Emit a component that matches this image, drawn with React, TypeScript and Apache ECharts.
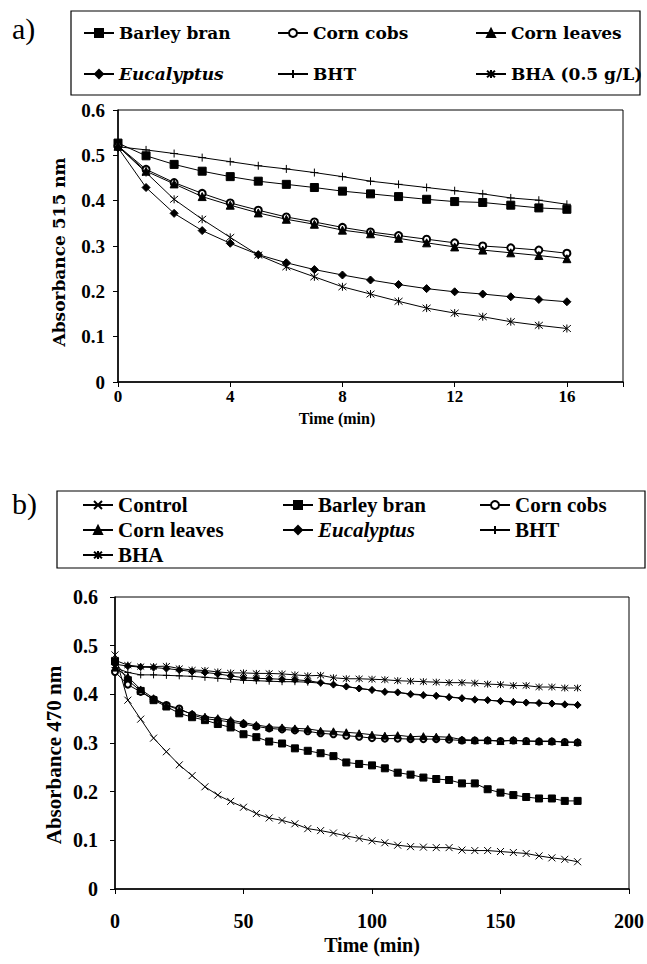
import React, { useEffect, useRef } from 'react';
import * as echarts from 'echarts';

// ---------- Data: panel a (DPPH, 515 nm) ----------
const timeA = [0, 1, 2, 3, 4, 5, 6, 7, 8, 9, 10, 11, 12, 13, 14, 15, 16];
const barleyA = [0.527, 0.499, 0.48, 0.465, 0.453, 0.443, 0.436, 0.429, 0.421, 0.415, 0.409, 0.403, 0.398, 0.396, 0.39, 0.384, 0.381];
const cobsA = [0.521, 0.469, 0.44, 0.416, 0.395, 0.379, 0.364, 0.353, 0.341, 0.331, 0.323, 0.315, 0.307, 0.3, 0.296, 0.291, 0.284];
const leavesA = [0.52, 0.465, 0.437, 0.409, 0.39, 0.373, 0.359, 0.348, 0.335, 0.327, 0.317, 0.307, 0.298, 0.291, 0.285, 0.279, 0.272];
const eucalyptusA = [0.517, 0.429, 0.372, 0.334, 0.306, 0.281, 0.263, 0.248, 0.236, 0.225, 0.215, 0.206, 0.199, 0.194, 0.188, 0.182, 0.177];
const bhtA = [0.519, 0.512, 0.504, 0.495, 0.486, 0.477, 0.47, 0.462, 0.453, 0.443, 0.436, 0.429, 0.422, 0.415, 0.406, 0.401, 0.392];
const bhaA = [0.52, 0.462, 0.403, 0.359, 0.319, 0.28, 0.254, 0.232, 0.21, 0.194, 0.178, 0.163, 0.152, 0.144, 0.133, 0.125, 0.118];

// ---------- Data: panel b (470 nm) ----------
const timeB = [0, 5, 10, 15, 20, 25, 30, 35, 40, 45, 50, 55, 60, 65, 70, 75, 80, 85, 90, 95, 100, 105, 110, 115, 120, 125, 130, 135, 140, 145, 150, 155, 160, 165, 170, 175, 180];
const controlB = [0.481, 0.388, 0.349, 0.31, 0.282, 0.255, 0.233, 0.21, 0.193, 0.18, 0.168, 0.155, 0.146, 0.141, 0.134, 0.124, 0.12, 0.115, 0.109, 0.104, 0.099, 0.095, 0.09, 0.087, 0.086, 0.085, 0.085, 0.08, 0.079, 0.079, 0.077, 0.075, 0.073, 0.068, 0.064, 0.061, 0.056];
const barleyB = [0.468, 0.429, 0.407, 0.388, 0.375, 0.361, 0.353, 0.347, 0.339, 0.332, 0.318, 0.312, 0.303, 0.299, 0.289, 0.284, 0.279, 0.273, 0.26, 0.257, 0.254, 0.248, 0.239, 0.235, 0.229, 0.226, 0.224, 0.217, 0.217, 0.205, 0.198, 0.193, 0.189, 0.186, 0.186, 0.181, 0.181];
const cobsB = [0.446, 0.42, 0.405, 0.39, 0.378, 0.371, 0.358, 0.35, 0.347, 0.343, 0.339, 0.334, 0.33, 0.328, 0.326, 0.324, 0.32, 0.318, 0.315, 0.313, 0.31, 0.309, 0.309, 0.308, 0.308, 0.308, 0.307, 0.305, 0.305, 0.305, 0.304, 0.305, 0.304, 0.303, 0.303, 0.302, 0.301];
const leavesB = [0.455, 0.436, 0.41, 0.392, 0.378, 0.368, 0.36, 0.354, 0.351, 0.347, 0.342, 0.337, 0.333, 0.332, 0.33, 0.329, 0.325, 0.324, 0.322, 0.32, 0.317, 0.315, 0.316, 0.313, 0.314, 0.313, 0.312, 0.307, 0.306, 0.306, 0.304, 0.306, 0.304, 0.304, 0.304, 0.302, 0.302];
const eucalyptusB = [0.462, 0.458, 0.456, 0.455, 0.453, 0.45, 0.447, 0.445, 0.442, 0.438, 0.434, 0.433, 0.432, 0.431, 0.43, 0.428, 0.424, 0.42, 0.416, 0.412, 0.409, 0.405, 0.404, 0.4, 0.398, 0.397, 0.394, 0.392, 0.389, 0.388, 0.386, 0.384, 0.383, 0.382, 0.381, 0.379, 0.378];
const bhtB = [0.455, 0.445, 0.44, 0.44, 0.439, 0.438, 0.437, 0.435, 0.433, 0.431, 0.429, 0.428, 0.427, 0.426, 0.426, 0.425, 0.423, 0.42, 0.416, 0.412, 0.409, 0.406, 0.404, 0.401, 0.399, 0.397, 0.395, 0.392, 0.39, 0.388, 0.386, 0.385, 0.383, 0.382, 0.381, 0.38, 0.379];
const bhaB = [0.47, 0.46, 0.457, 0.457, 0.458, 0.453, 0.45, 0.449, 0.446, 0.444, 0.444, 0.443, 0.443, 0.442, 0.44, 0.438, 0.439, 0.434, 0.432, 0.432, 0.431, 0.43, 0.428, 0.427, 0.426, 0.425, 0.424, 0.424, 0.423, 0.421, 0.42, 0.418, 0.418, 0.415, 0.415, 0.413, 0.413];

// tick values
const yTicks = [0, 0.1, 0.2, 0.3, 0.4, 0.5, 0.6];
const xTicksA = [0, 4, 8, 12, 16];
const xTicksB = [0, 50, 100, 150, 200];

const SYM: Record<string, string> = {
  square: 'rect',
  circle: 'emptyCircle',
  triangle: 'triangle',
  diamond: 'diamond',
  plus: 'path://M5,0L5,10M0,5L10,5',
  cross: 'path://M0,0L10,10M10,0L0,10',
  star: 'path://M0,0L10,10M10,0L0,10M5,-1L5,11',
};

const TIMES = '"Liberation Serif", "Times New Roman", serif';
const DEJAVU = '"DejaVu Serif", serif';

function mk(name: string, xs: number[], ys: number[], sym: string, size: number, idx: number) {
  return {
    type: 'line',
    name,
    xAxisIndex: idx,
    yAxisIndex: idx,
    data: xs.map((x, i) => [x, ys[i]]),
    symbol: SYM[sym],
    symbolSize: size,
    showSymbol: true,
    lineStyle: { color: '#000', width: 1 },
    itemStyle: { color: '#000', borderColor: '#000', borderWidth: 1 },
    emphasis: { disabled: true },
  };
}

function makeLegend(name: string, left: number, top: number, font: string, size: number, lh: number, italic = false) {
  return {
    data: [{ name, textStyle: { fontStyle: italic ? 'italic' : 'normal' } }],
    left,
    top,
    padding: 0,
    itemWidth: 30,
    itemHeight: 10,
    selectedMode: false,
    textStyle: { fontFamily: font, fontWeight: 'bold', fontSize: size, color: '#000', lineHeight: lh },
  };
}

function axisY(idx: number, font: string, size: number, margin: number) {
  return {
    type: 'value',
    gridIndex: idx,
    min: 0,
    max: 0.6,
    interval: 0.1,
    axisLine: { show: true, lineStyle: { color: '#000', width: 1.5 } },
    axisTick: { show: true, length: 5, lineStyle: { color: '#000' } },
    splitLine: { show: false },
    axisLabel: {
      margin,
      fontFamily: font,
      fontWeight: 'bold',
      fontSize: size,
      color: '#000',
      formatter: (v: number) => (yTicks.some((t) => Math.abs(t - v) < 1e-9) ? (v === 0 ? '0' : v.toFixed(1)) : ''),
    },
  };
}

export default function App() {
  const ref = useRef<HTMLDivElement>(null);
  useEffect(() => {
    if (!ref.current) return;
    const chart = echarts.init(ref.current, undefined, { renderer: 'svg' });
    const option: any = {
      animation: false,
      backgroundColor: '#fff',
      grid: [
        { left: 118, top: 110, width: 505, height: 272, show: true, borderColor: '#000', borderWidth: 1, backgroundColor: 'transparent' },
        { left: 115, top: 597, width: 517, height: 292, show: true, borderColor: '#000', borderWidth: 1, backgroundColor: 'transparent' },
      ],
      xAxis: [
        {
          type: 'value',
          gridIndex: 0,
          min: 0,
          max: 18,
          interval: 4,
          axisLine: { show: true, lineStyle: { color: '#000', width: 1.5 } },
          axisTick: { show: true, length: 5, lineStyle: { color: '#000' } },
          splitLine: { show: false },
          axisLabel: {
            margin: 6,
            fontFamily: TIMES,
            fontWeight: 'bold',
            fontSize: 17,
            color: '#000',
            formatter: (v: number) => (xTicksA.indexOf(v) >= 0 ? String(v) : ''),
          },
        },
        {
          type: 'value',
          gridIndex: 1,
          min: 0,
          max: 200,
          interval: 50,
          axisLine: { show: true, lineStyle: { color: '#000', width: 1.5 } },
          axisTick: { show: true, length: 5, lineStyle: { color: '#000' } },
          splitLine: { show: false },
          axisLabel: {
            margin: 22,
            fontFamily: TIMES,
            fontWeight: 'bold',
            fontSize: 20,
            color: '#000',
            formatter: (v: number) => (xTicksB.indexOf(v) >= 0 ? String(v) : ''),
          },
        },
      ],
      yAxis: [axisY(0, TIMES, 19, 13), axisY(1, TIMES, 20, 17)],
      legend: [
        makeLegend('Barley bran', 83, 23, DEJAVU, 17, 20),
        makeLegend('Corn cobs', 277, 23, DEJAVU, 17, 20),
        makeLegend('Corn leaves', 475, 23, DEJAVU, 17, 20),
        makeLegend('Eucalyptus', 83, 64, DEJAVU, 17, 20, true),
        makeLegend('BHT', 277, 64, DEJAVU, 17, 20),
        makeLegend('BHA (0.5 g/L)', 475, 64, DEJAVU, 17, 20),
        makeLegend('Control', 82, 494, TIMES, 21, 22),
        makeLegend('Barley bran', 282, 494, TIMES, 21, 22),
        makeLegend('Corn cobs', 479, 494, TIMES, 21, 22),
        makeLegend('Corn leaves', 82, 519, TIMES, 21, 22),
        makeLegend('Eucalyptus', 282, 519, TIMES, 21, 22, true),
        makeLegend('BHT', 479, 519, TIMES, 21, 22),
        makeLegend('BHA', 82, 544, TIMES, 21, 22),
      ],
      graphic: [
        { type: 'rect', shape: { x: 71, y: 11, width: 569, height: 84 }, style: { fill: 'none', stroke: '#000', lineWidth: 1.2 } },
        { type: 'rect', shape: { x: 57, y: 491, width: 588, height: 77 }, style: { fill: 'none', stroke: '#000', lineWidth: 1.2 } },
        { type: 'text', x: 12, y: 28, style: { text: 'a)', fontFamily: TIMES, fontSize: 30, fill: '#000', align: 'left', verticalAlign: 'middle' } },
        { type: 'text', x: 12, y: 503, style: { text: 'b)', fontFamily: TIMES, fontSize: 30, fill: '#000', align: 'left', verticalAlign: 'middle' } },
        { type: 'text', x: 59, y: 252, rotation: Math.PI / 2, style: { text: 'Absorbance 515 nm', fontFamily: DEJAVU, fontWeight: 'bold', fontSize: 17, fill: '#000', align: 'center', verticalAlign: 'middle' } },
        { type: 'text', x: 337, y: 418, style: { text: 'Time (min)', fontFamily: TIMES, fontWeight: 'bold', fontSize: 16, fill: '#000', align: 'center', verticalAlign: 'middle' } },
        { type: 'text', x: 54, y: 755, rotation: Math.PI / 2, style: { text: 'Absorbance 470 nm', fontFamily: TIMES, fontWeight: 'bold', fontSize: 21, fill: '#000', align: 'center', verticalAlign: 'middle' } },
        { type: 'text', x: 372, y: 945, style: { text: 'Time (min)', fontFamily: TIMES, fontWeight: 'bold', fontSize: 20, fill: '#000', align: 'center', verticalAlign: 'middle' } },
      ],
      series: [
        mk('Barley bran', timeA, barleyA, 'square', 8, 0),
        mk('Corn cobs', timeA, cobsA, 'circle', 7, 0),
        mk('Corn leaves', timeA, leavesA, 'triangle', 8, 0),
        mk('Eucalyptus', timeA, eucalyptusA, 'diamond', 8, 0),
        mk('BHT', timeA, bhtA, 'plus', 8, 0),
        mk('BHA (0.5 g/L)', timeA, bhaA, 'star', 8, 0),
        mk('Control', timeB, controlB, 'cross', 7, 1),
        mk('Barley bran', timeB, barleyB, 'square', 7, 1),
        mk('Corn cobs', timeB, cobsB, 'circle', 6, 1),
        mk('Corn leaves', timeB, leavesB, 'triangle', 7, 1),
        mk('Eucalyptus', timeB, eucalyptusB, 'diamond', 7, 1),
        mk('BHT', timeB, bhtB, 'plus', 7, 1),
        mk('BHA', timeB, bhaB, 'star', 7, 1),
      ],
    };
    chart.setOption(option);
    return () => chart.dispose();
  }, []);
  return (
    <div
      ref={ref}
      style={{ position: 'absolute', left: 0, top: 0, width: 647, height: 964, background: '#fff' }}
    />
  );
}
